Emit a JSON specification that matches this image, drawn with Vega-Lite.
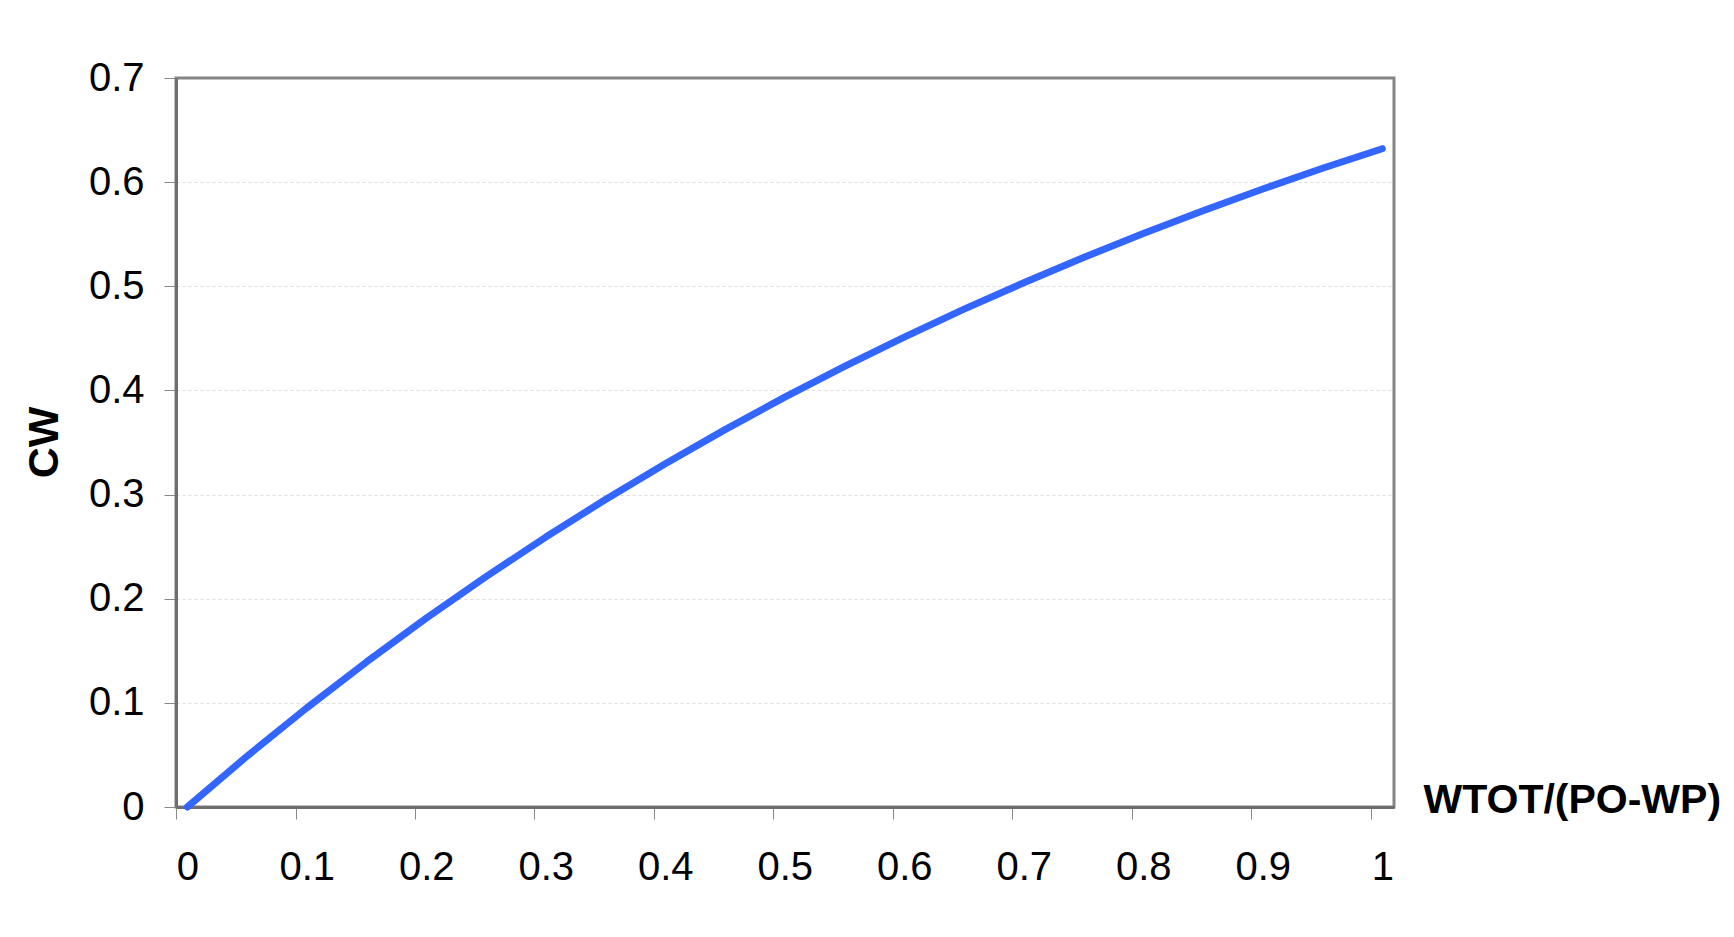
{
  "$schema": "https://vega.github.io/schema/vega-lite/v6.json",
  "width": 1218,
  "height": 729,
  "autosize": "none",
  "padding": {"left": 176, "top": 78, "right": 340, "bottom": 130},
  "background": "white",
  "config": {"view": {"stroke": "#858585", "strokeWidth": 3}, "font": "Liberation Sans"},
  "data": {"values": [
    {"x": 0, "cw": 0},
    {"x": 0.05, "cw": 0.0488},
    {"x": 0.1, "cw": 0.0952},
    {"x": 0.15, "cw": 0.1393},
    {"x": 0.2, "cw": 0.1813},
    {"x": 0.25, "cw": 0.2212},
    {"x": 0.3, "cw": 0.2592},
    {"x": 0.35, "cw": 0.2953},
    {"x": 0.4, "cw": 0.3297},
    {"x": 0.45, "cw": 0.3624},
    {"x": 0.5, "cw": 0.3935},
    {"x": 0.55, "cw": 0.4231},
    {"x": 0.6, "cw": 0.4512},
    {"x": 0.65, "cw": 0.478},
    {"x": 0.7, "cw": 0.5034},
    {"x": 0.75, "cw": 0.5276},
    {"x": 0.8, "cw": 0.5507},
    {"x": 0.85, "cw": 0.5726},
    {"x": 0.9, "cw": 0.5934},
    {"x": 0.95, "cw": 0.6133},
    {"x": 1.0, "cw": 0.6321}
  ]},
  "mark": {"type": "line", "color": "#3366ff", "strokeWidth": 7, "strokeCap": "round", "strokeJoin": "round"},
  "encoding": {
    "x": {
      "field": "x", "type": "quantitative",
      "scale": {"domain": [-0.00946, 1.0098], "nice": false, "zero": false},
      "axis": {
        "values": [0, 0.1, 0.2, 0.3, 0.4, 0.5, 0.6, 0.7, 0.8, 0.9, 1],
        "format": "~g",
        "tickOffset": -11.3,
        "labelOffset": 11.3,
        "grid": false,
        "domainColor": "#6e6e6e",
        "domainWidth": 3,
        "tickColor": "#8a8a8a",
        "tickSize": 12,
        "tickWidth": 1,
        "labelFont": "Liberation Sans",
        "labelFontSize": 40,
        "labelColor": "black",
        "labelPadding": 28,
        "labelFlush": false,
        "labelOverlap": false,
        "title": "WTOT/(PO-WP)",
        "titleFont": "Liberation Sans",
        "titleFontSize": 41,
        "titleFontWeight": "bold",
        "titleColor": "black",
        "titleX": 1247,
        "titleY": 5,
        "titleAlign": "left",
        "titleAnchor": "start",
        "titleBaseline": "alphabetic",
        "titleAngle": 0
      }
    },
    "y": {
      "field": "cw", "type": "quantitative",
      "scale": {"domain": [0, 0.7], "nice": false},
      "axis": {
        "values": [0, 0.1, 0.2, 0.3, 0.4, 0.5, 0.6, 0.7],
        "format": "~g",
        "grid": true,
        "gridColor": "#dcdcdc",
        "gridDash": [3, 3],
        "gridWidth": 1,
        "gridOpacity": {"condition": {"test": "datum.value <= 0 || datum.value >= 0.7", "value": 0}, "value": 1},
        "domainColor": "#6e6e6e",
        "domainWidth": 3,
        "tickColor": "#8a8a8a",
        "tickSize": 12,
        "tickWidth": 1,
        "labelFont": "Liberation Sans",
        "labelFontSize": 40,
        "labelColor": "black",
        "labelPadding": 20,
        "labelFlush": false,
        "labelOverlap": false,
        "title": "CW",
        "titleFont": "Liberation Sans",
        "titleFontSize": 43,
        "titleFontWeight": "bold",
        "titleColor": "black",
        "titleX": -119,
        "titleY": 364,
        "titleAlign": "center",
        "titleBaseline": "alphabetic",
        "titleAngle": -90
      }
    }
  }
}
